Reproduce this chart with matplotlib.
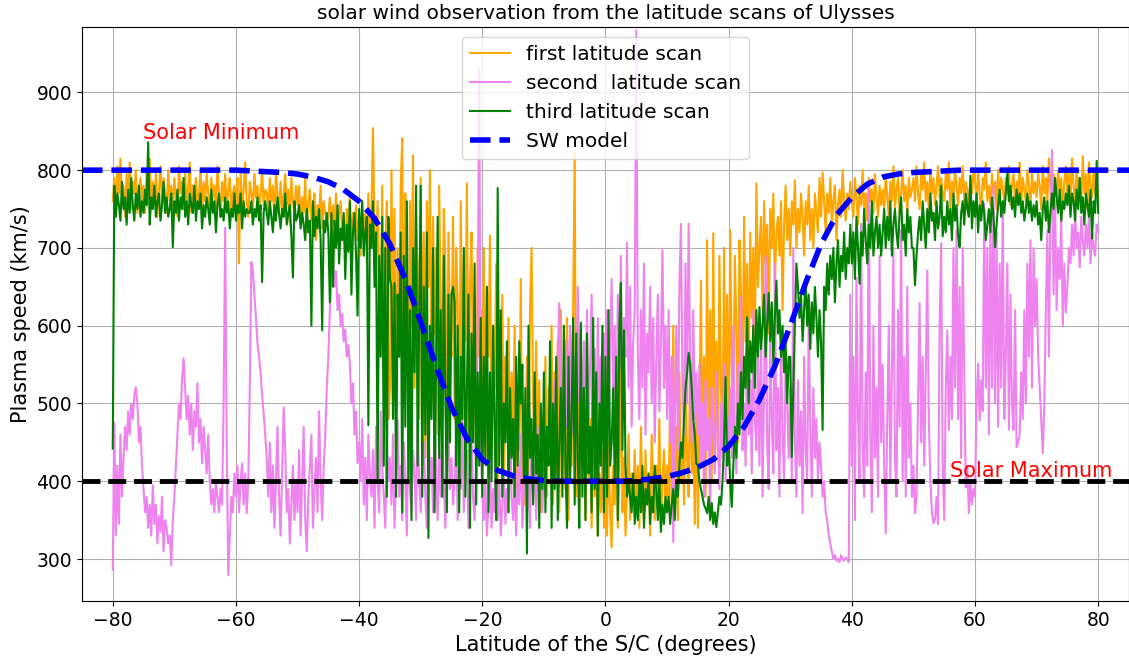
import numpy as np
import matplotlib.pyplot as plt

# speeds in km/s, sampled every 0.25 deg of latitude from -80 to 80
first_scan = [
    760, 790, 745, 805, 770, 815, 755, 780, 740, 795, 765, 810, 750, 785, 770, 800, 745, 775, 790, 760,
    780, 745, 800, 765, 815, 750, 785, 760, 795, 740, 775, 805, 755, 790, 770, 745, 800, 760, 780, 750,
    790, 765, 740, 805, 770, 785, 750, 795, 760, 775, 810, 745, 780, 765, 790, 755, 770, 800, 745, 785,
    760, 795, 770, 745, 790, 765, 780, 750, 805, 770, 740, 785, 760, 795, 750, 775, 790, 745, 770, 780,
    755, 790, 680, 800, 745, 775, 810, 760, 740, 785, 770, 750, 795, 765, 780, 745, 770, 800, 755, 775,
    770, 745, 790, 760, 780, 735, 800, 765, 750, 785, 740, 770, 795, 755, 775, 730, 790, 760, 745, 780,
    755, 780, 730, 765, 745, 790, 720, 760, 775, 735, 750, 770, 710, 755, 740, 780, 725, 760, 745, 735,
    740, 765, 715, 755, 730, 770, 705, 745, 760, 720, 740, 690, 750, 730, 765, 700, 745, 725, 755, 710,
    735, 690, 760, 710, 745, 680, 770, 700, 750, 854, 720, 690, 760, 650, 600, 780, 540, 700, 760, 480,
    520, 800, 610, 750, 470, 700, 560, 780, 841, 500, 770, 690, 450, 760, 600, 819, 520, 730, 680, 480,
    790, 560, 720, 430, 760, 650, 800, 500, 740, 590, 700, 460, 780, 620, 540, 750, 680, 420, 720, 600,
    560, 740, 480, 700, 630, 420, 760, 520, 690, 580, 783, 450, 660, 720, 500, 640, 410, 700, 560, 620,
    480, 700, 420, 650, 560, 716, 440, 600, 520, 680, 400, 580, 460, 640, 380, 560, 500, 610, 430, 540,
    470, 600, 390, 520, 440, 660, 380, 370, 460, 560, 410, 620, 700, 500, 450, 580, 400, 530, 360, 480,
    430, 560, 380, 520, 450, 600, 370, 540, 410, 580, 360, 620, 440, 500, 390, 610, 350, 590, 420, 620,
    823, 380, 610, 360, 590, 420, 560, 350, 520, 400, 480, 340, 460, 380, 430, 330, 410, 360, 440, 340,
    390, 330, 450, 360, 315, 420, 370, 470, 340, 400, 585, 360, 430, 330, 390, 460, 350, 410, 370, 440,
    360, 420, 340, 470, 380, 350, 440, 370, 410, 330, 460, 390, 350, 420, 370, 480, 340, 400, 440, 360,
    420, 380, 500, 360, 600, 410, 470, 350, 540, 400, 450, 370, 520, 430, 380, 560, 410, 470, 345, 520,
    340, 480, 658, 420, 560, 380, 710, 450, 620, 400, 719, 470, 580, 430, 690, 520, 440, 700, 480, 640,
    430, 723, 550, 470, 690, 600, 450, 710, 640, 500, 740, 580, 680, 520, 720, 610, 700, 560, 783, 650,
    700, 740, 620, 760, 680, 730, 590, 750, 700, 770, 650, 720, 740, 690, 760, 620, 730, 780, 710, 750,
    690, 760, 730, 787, 700, 750, 720, 770, 740, 690, 760, 730, 780, 710, 750, 700, 770, 745, 720, 790,
    740, 797, 760, 720, 770, 745, 790, 730, 760, 780, 710, 755, 775, 740, 800, 760, 735, 770, 750, 785,
    760, 740, 790, 765, 730, 780, 755, 800, 745, 770, 735, 790, 760, 775, 745, 795, 765, 740, 780, 755,
    775, 750, 795, 765, 740, 785, 760, 805, 750, 775, 790, 745, 770, 800, 760, 780, 745, 790, 765, 775,
    790, 760, 805, 770, 750, 795, 775, 810, 760, 785, 750, 800, 770, 790, 755, 780, 805, 765, 790, 770,
    760, 795, 775, 810, 750, 785, 765, 800, 780, 755, 790, 770, 805, 760, 785, 775, 745, 790, 770, 800,
    785, 760, 800, 770, 745, 790, 775, 810, 760, 780, 755, 795, 770, 785, 750, 800, 765, 790, 775, 760,
    790, 770, 805, 755, 780, 795, 760, 785, 770, 810, 750, 790, 775, 760, 800, 780, 755, 795, 770, 785,
    765, 795, 780, 750, 805, 770, 790, 760, 815, 775, 755, 795, 780, 765, 800, 770, 790, 750, 785, 805,
    770, 795, 760, 815, 780, 755, 800, 775, 790, 760, 818, 770, 795, 750, 810, 780, 765, 800, 770, 790,
    760]

second_scan = [
    286, 475, 330, 420, 345, 460, 380, 430, 470, 440, 490, 460, 500, 480, 510, 521, 500, 450, 470, 420,
    390, 360, 380, 340, 370, 330, 395, 345, 370, 320, 355, 335, 380, 310, 350, 340, 320, 330, 292, 350,
    380, 420, 460, 500, 480, 530, 558, 520, 480, 510, 460, 500, 440, 490, 470, 526, 450, 480, 423, 470,
    440, 410, 460, 400, 370, 390, 360, 400, 380, 360, 390, 370, 500, 726, 450, 279, 330, 380, 360, 410,
    380, 420, 360, 400, 423, 370, 410, 359, 400, 520, 682, 670, 640, 610, 577, 560, 540, 510, 487, 460,
    430, 380, 450, 360, 420, 340, 400, 470, 380, 330, 410, 495, 440, 360, 390, 320, 370, 420, 350, 400,
    360, 440, 330, 400, 470, 350, 310, 380, 420, 460, 340, 390, 430, 360, 490, 400, 350, 420, 460, 520,
    560, 620, 660, 688, 650, 670, 620, 640, 600, 615, 580, 595, 560, 575, 551, 500, 526, 460, 490, 423,
    450, 400, 480, 370, 430, 350, 460, 410, 380, 440, 340, 470, 400, 360, 490, 420, 380, 340, 450, 400,
    430, 370, 460, 340, 410, 480, 380, 420, 350, 450, 400, 330, 470, 390, 360, 440, 410, 350, 480, 400,
    360, 420, 450, 380, 340, 470, 400, 430, 360, 490, 410, 350, 440, 380, 460, 400, 340, 420, 470, 390,
    430, 370, 400, 460, 350, 420, 390, 480, 360, 410, 440, 340, 400, 460, 380, 350, 420, 600, 930, 450,
    380, 350, 400, 330, 370, 420, 340, 390, 360, 480, 350, 400, 330, 370, 410, 345, 390, 360, 500, 380,
    350, 400, 330, 420, 370, 460, 340, 390, 430, 360, 410, 340, 450, 380, 420, 350, 470, 390, 430, 360,
    420, 380, 470, 440, 510, 400, 480, 530, 450, 560, 629, 480, 520, 440, 580, 470, 540, 600, 460, 520,
    560, 480, 650, 500, 600, 430, 580, 520, 620, 460, 550, 640, 490, 570, 430, 610, 500, 560, 450, 590,
    520, 620, 470, 580, 660, 500, 600, 450, 640, 540, 690, 480, 610, 560, 707, 520, 650, 470, 580, 620,
    980, 560, 480, 620, 520, 680, 460, 590, 540, 650, 500, 610, 450, 560, 640, 490, 580, 697, 520, 600,
    480, 620, 450, 560, 322, 480, 600, 440, 650, 731, 520, 460, 680, 500, 731, 560, 450, 620, 480, 540,
    460, 551, 420, 500, 380, 530, 440, 480, 359, 520, 470, 410, 540, 450, 390, 500, 430, 551, 400, 480,
    450, 520, 430, 600, 470, 410, 551, 480, 637, 440, 500, 420, 580, 460, 530, 410, 620, 480, 440, 560,
    420, 600, 380, 520, 690, 450, 390, 580, 480, 410, 680, 440, 520, 380, 590, 460, 400, 560, 500, 430,
    520, 400, 700, 450, 380, 530, 420, 490, 359, 560, 440, 400, 611, 470, 380, 520, 430, 480, 400, 450,
    420, 380, 400, 360, 350, 330, 320, 310, 300, 305, 298, 300, 296, 305, 300, 298, 302, 300, 296, 640,
    420, 560, 350, 662, 480, 400, 731, 450, 380, 540, 420, 783, 460, 360, 600, 430, 520, 380, 690, 450,
    550, 420, 333, 480, 600, 400, 540, 700, 430, 380, 620, 470, 723, 400, 560, 380, 650, 430, 500, 380,
    420, 359, 380, 500, 629, 450, 560, 420, 540, 671, 480, 400, 360, 346, 350, 380, 345, 600, 706, 420,
    350, 520, 594, 466, 560, 480, 700, 520, 723, 480, 650, 430, 700, 540, 392, 420, 359, 400, 370, 390,
    380, 500, 551, 478, 530, 490, 757, 520, 700, 460, 740, 520, 780, 500, 720, 470, 680, 520, 760, 480,
    560, 680, 466, 640, 500, 466, 620, 444, 450, 460, 540, 480, 620, 500, 680, 560, 710, 520, 700, 600,
    660, 560, 520, 480, 436, 500, 620, 723, 560, 750, 826, 640, 760, 620, 700, 660, 740, 600, 680, 617,
    650, 700, 680, 730, 690, 745, 700, 720, 675, 740, 710, 690, 730, 700, 745, 680, 720, 700, 690, 730,
    720]

third_scan = [
    442, 780, 740, 770, 755, 735, 785, 750, 765, 730, 775, 745, 790, 755, 735, 770, 750, 780, 740, 760,
    745, 775, 755, 836, 730, 765, 750, 780, 740, 760, 770, 735, 755, 785, 745, 765, 740, 750, 770, 701,
    760, 745, 775, 735, 765, 750, 790, 740, 760, 730, 770, 755, 745, 780, 735, 760, 750, 770, 725, 755,
    740, 765, 750, 730, 775, 745, 760, 720, 755, 770, 740, 750, 735, 765, 745, 760, 725, 750, 740, 770,
    735, 755, 745, 770, 725, 760, 740, 750, 745, 745, 760, 730, 750, 740, 765, 735, 755, 656, 745, 760,
    745, 730, 760, 740, 720, 755, 735, 765, 745, 725, 750, 740, 770, 730, 745, 755, 715, 662, 760, 735,
    740, 755, 725, 745, 730, 710, 750, 720, 735, 600, 760, 715, 740, 725, 750, 710, 594, 735, 720, 745,
    720, 630, 745, 650, 735, 700, 755, 680, 725, 710, 745, 660, 730, 695, 760, 640, 720, 745, 690, 613,
    750, 700, 760, 690, 720, 740, 472, 730, 700, 760, 650, 720, 399, 690, 560, 740, 420, 700, 380, 740,
    660, 650, 480, 655, 380, 640, 560, 720, 360, 690, 470, 760, 400, 620, 350, 700, 540, 780, 420, 610,
    780, 380, 650, 460, 720, 327, 600, 480, 700, 360, 560, 740, 430, 620, 380, 690, 510, 360, 640, 450,
    640, 650, 630, 420, 600, 360, 560, 480, 700, 380, 520, 640, 340, 590, 450, 680, 370, 540, 420, 610,
    380, 560, 430, 650, 360, 540, 400, 600, 470, 350, 777, 420, 620, 380, 500, 450, 580, 360, 520, 430,
    480, 380, 560, 420, 580, 500, 550, 400, 520, 307, 600, 430, 480, 370, 540, 410, 460, 340, 500, 390,
    540, 360, 470, 420, 580, 340, 500, 390, 560, 350, 450, 520, 380, 600, 420, 340, 560, 400, 480, 610,
    370, 590, 430, 340, 604, 380, 520, 350, 590, 410, 470, 360, 610, 390, 540, 330, 500, 420, 600, 360,
    560, 380, 620, 420, 450, 520, 400, 560, 350, 600, 655, 440, 594, 420, 380, 400, 380, 360, 410, 345,
    380, 350, 400, 360, 420, 340, 390, 370, 410, 345, 380, 360, 420, 390, 350, 400, 335, 370, 345, 380,
    360, 380, 345, 370, 390, 350, 400, 380, 420, 450, 430, 480, 520, 540, 565, 550, 520, 480, 460, 423,
    420, 400, 390, 380, 370, 365, 359, 380, 350, 372, 345, 360, 341, 360, 380, 370, 400, 450, 534, 420,
    450, 400, 367, 420, 470, 430, 500, 460, 540, 480, 560, 520, 611, 500, 580, 540, 600, 520, 620, 560,
    624, 570, 600, 640, 560, 600, 642, 580, 630, 550, 610, 658, 590, 620, 560, 600, 540, 580, 500, 560,
    560, 431, 520, 600, 680, 650, 610, 640, 580, 620, 660, 600, 640, 570, 630, 590, 650, 610, 560, 620,
    580, 466, 650, 620, 680, 640, 690, 660, 700, 630, 680, 710, 650, 690, 670, 720, 660, 700, 680, 730,
    680, 720, 660, 740, 700, 654, 720, 690, 750, 710, 680, 730, 700, 760, 690, 720, 740, 700, 730, 690,
    720, 750, 700, 740, 710, 760, 690, 730, 750, 720, 700, 745, 765, 710, 730, 690, 750, 720, 740, 700,
    700, 652, 690, 720, 740, 710, 760, 730, 700, 750, 720, 770, 735, 745, 710, 760, 725, 740, 780, 715,
    740, 720, 760, 730, 750, 710, 770, 735, 755, 715, 701, 745, 760, 730, 770, 750, 740, 793, 725, 760,
    740, 770, 720, 755, 735, 760, 745, 710, 730, 750, 720, 765, 740, 701, 730, 755, 775, 740, 760, 745,
    770, 796, 760, 780, 750, 765, 740, 775, 755, 770, 745, 760, 735, 750, 770, 745, 760, 735, 755, 740,
    760, 730, 745, 710, 750, 765, 735, 760, 720, 745, 770, 750, 790, 765, 745, 775, 735, 760, 750, 770,
    755, 780, 740, 770, 760, 735, 775, 750, 790, 745, 765, 730, 770, 755, 740, 775, 712, 760, 745, 812,
    745]

# SW model curve
model_lat = [-85, -82.5, -80, -77.5, -75, -72.5, -70, -67.5, -65, -62.5, -60, -57.5, -55, -52.5,
             -50, -47.5, -45, -42.5, -40, -37.5, -35, -32.5, -30, -27.5, -25, -22.5, -20, -17.5,
             -15, -12.5, -10, -7.5, -5, -2.5, 0, 2.5, 5, 7.5, 10, 12.5, 15, 17.5, 20, 22.5, 25,
             27.5, 30, 32.5, 35, 37.5, 40, 42.5, 45, 47.5, 50, 52.5, 55, 57.5, 60, 62.5, 65,
             67.5, 70, 72.5, 75, 77.5, 80, 82.5, 85]
model_speed = [800, 800, 800, 800, 800, 800, 800, 800, 800, 800, 800, 799, 798, 797,
               795, 791, 785, 775, 760, 738, 705, 660, 605, 548, 495, 455, 428, 414,
               407, 403, 401, 400, 400, 400, 400, 400, 401, 403, 406, 411, 418, 428, 445, 470, 505,
               548, 600, 655, 705, 742, 765, 782, 791, 795, 797, 798, 799, 800, 800, 800, 800,
               800, 800, 800, 800, 800, 800, 800, 800]

lat1 = np.linspace(-80, 80, len(first_scan))
lat2 = np.linspace(-80, 80, len(second_scan))
lat3 = np.linspace(-80, 80, len(third_scan))

fig = plt.figure(figsize=(11.29, 6.6), dpi=100)
ax = fig.add_axes([0.0726, 0.0894, 0.9274, 0.8696])

ax.plot(lat1, first_scan, color='orange', lw=1.5, label='first latitude scan')
ax.plot(lat2, second_scan, color='violet', lw=1.5, label='second  latitude scan')
ax.plot(lat3, third_scan, color='green', lw=1.5, label='third latitude scan')
ax.plot(model_lat, model_speed, 'b--', lw=4, label='SW model')
ax.axhline(400, color='k', ls='--', lw=3.5)

ax.text(-75.1, 840, 'Solar Minimum', color='red', fontsize=15)
ax.text(56, 405, 'Solar Maximum', color='red', fontsize=15)

ax.set_xlim(-85, 85)
ax.set_ylim(246, 984)
ax.set_xlabel('Latitude of the S/C (degrees)', fontsize=15)
ax.set_ylabel('Plasma speed (km/s)', fontsize=15)
ax.set_title('solar wind observation from the latitude scans of Ulysses', fontsize=14.5)
ax.tick_params(labelsize=13.5)
ax.grid(True)
ax.legend(loc='upper center', fontsize=14.5)

fig.savefig('out.png', dpi=100)
